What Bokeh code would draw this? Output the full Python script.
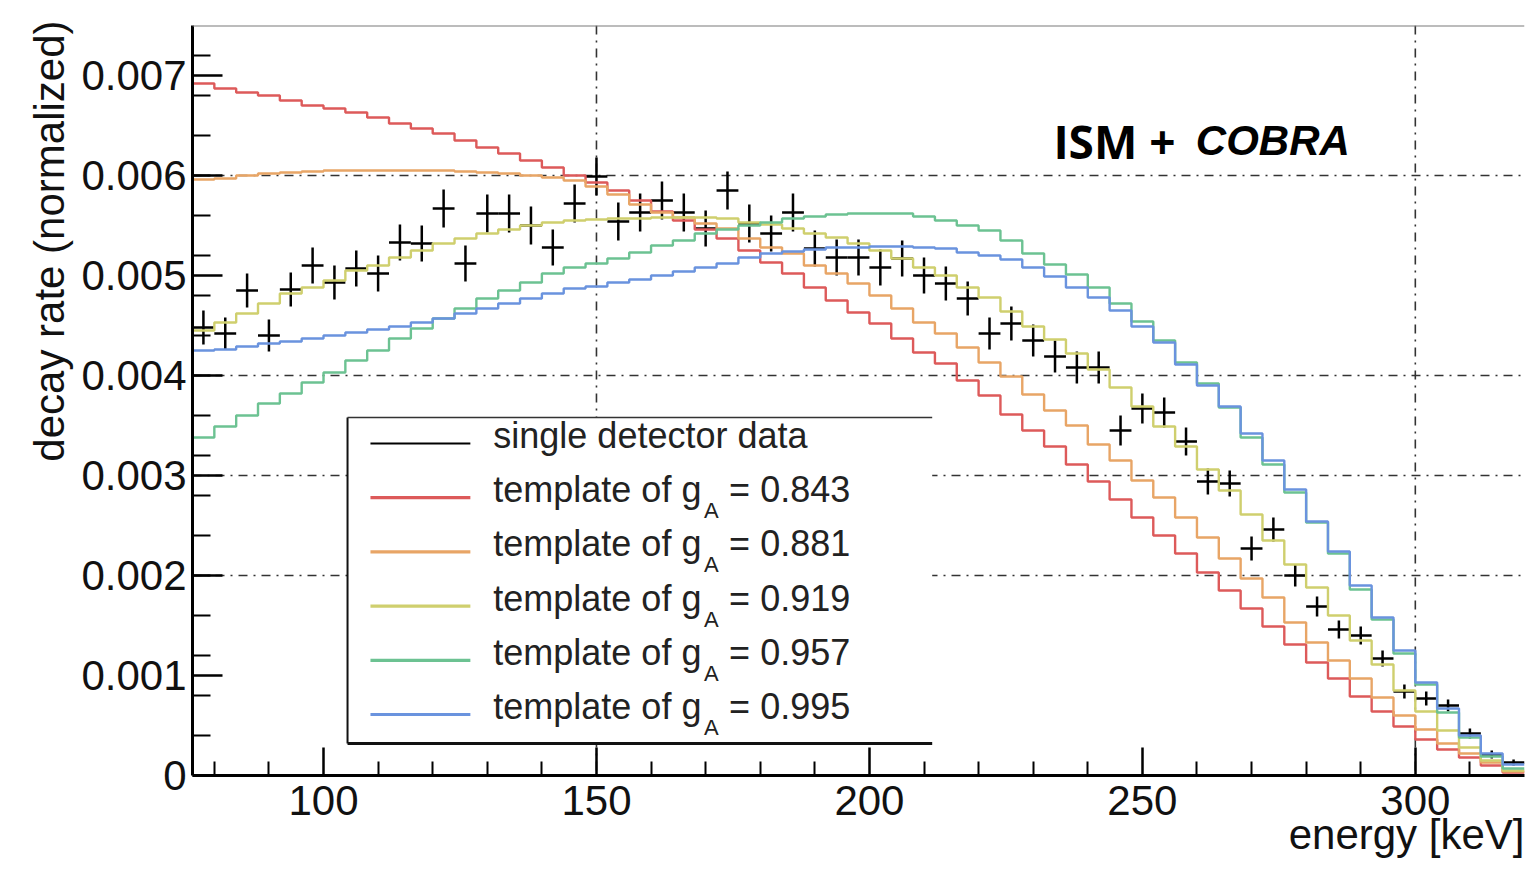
import numpy as np
from bokeh.plotting import figure
from bokeh.models import Range1d, FixedTicker, Span, Label, Title, ColumnDataSource, PrintfTickFormatter
from bokeh.embed import file_html
from bokeh.resources import INLINE

# ---------------- data ----------------
BIN_LO = 76.0
BIN_W = 4.0

data_rate = [0.00448, 0.00442, 0.00485, 0.00440, 0.00486, 0.00510, 0.00493, 0.00507, 0.00502, 0.00533,
             0.00532, 0.00567, 0.00512, 0.00562, 0.00562, 0.00550, 0.00528, 0.00572, 0.00599, 0.00554,
             0.00563, 0.00575, 0.00563, 0.00547, 0.00585, 0.00552, 0.00542, 0.00563, 0.00527, 0.00518,
             0.00518, 0.00508, 0.00517, 0.00500, 0.00492, 0.00477, 0.00442, 0.00452, 0.00435, 0.00419,
             0.00408, 0.00408, 0.00345, 0.00367, 0.00363, 0.00334, 0.00294, 0.00292, 0.00227, 0.00246,
             0.00200, 0.00169, 0.00146, 0.00140, 0.00117, 0.00084, 0.00077, 0.00070, 0.00042, 0.00021,
             0.00013]
data_err = [0.00017, 0.00016, 0.00017, 0.00016, 0.00017, 0.00018, 0.00017, 0.00018, 0.00018, 0.00018,
            0.00018, 0.00019, 0.00018, 0.00019, 0.00019, 0.00019, 0.00018, 0.00019, 0.00019, 0.00019,
            0.00019, 0.00019, 0.00019, 0.00018, 0.00019, 0.00019, 0.00018, 0.00019, 0.00018, 0.00018,
            0.00018, 0.00018, 0.00018, 0.00018, 0.00017, 0.00017, 0.00016, 0.00017, 0.00016, 0.00016,
            0.00016, 0.00016, 0.00015, 0.00015, 0.00015, 0.00014, 0.00013, 0.00013, 0.00012, 0.00012,
            0.00011, 0.00010, 0.00009, 0.00009, 0.00008, 0.00007, 0.00007, 0.00006, 0.00005, 0.00004,
            0.00003]

t_0843 = [0.00692, 0.00687, 0.00683, 0.00680, 0.00675, 0.00670, 0.00667, 0.00663, 0.00658, 0.00652,
          0.00647, 0.00642, 0.00635, 0.00628, 0.00622, 0.00615, 0.00608, 0.00600, 0.00593, 0.00585,
          0.00575, 0.00564, 0.00555, 0.00546, 0.00537, 0.00525, 0.00513, 0.00502, 0.00488, 0.00475,
          0.00463, 0.00452, 0.00437, 0.00423, 0.00412, 0.00395, 0.00380, 0.00361, 0.00345, 0.00329,
          0.00311, 0.00294, 0.00276, 0.00258, 0.00240, 0.00222, 0.00203, 0.00185, 0.00167, 0.00149,
          0.00131, 0.00113, 0.00097, 0.00079, 0.00064, 0.00049, 0.00036, 0.00026, 0.00018, 0.00010,
          0.00003]
t_0881 = [0.00596, 0.00597, 0.00600, 0.00602, 0.00603, 0.00604, 0.00605, 0.00605, 0.00605, 0.00605,
          0.00605, 0.00605, 0.00604, 0.00603, 0.00602, 0.00600, 0.00598, 0.00595, 0.00589, 0.00581,
          0.00571, 0.00563, 0.00558, 0.00552, 0.00547, 0.00537, 0.00528, 0.00522, 0.00510, 0.00502,
          0.00492, 0.00480, 0.00467, 0.00453, 0.00442, 0.00428, 0.00413, 0.00399, 0.00381, 0.00365,
          0.00350, 0.00331, 0.00315, 0.00295, 0.00278, 0.00258, 0.00238, 0.00217, 0.00197, 0.00178,
          0.00153, 0.00133, 0.00115, 0.00097, 0.00078, 0.00060, 0.00046, 0.00032, 0.00022, 0.00013,
          0.00004]
t_0919 = [0.00445, 0.00453, 0.00462, 0.00472, 0.00482, 0.00488, 0.00495, 0.00505, 0.00510, 0.00518,
          0.00525, 0.00532, 0.00537, 0.00542, 0.00546, 0.00550, 0.00553, 0.00555, 0.00556, 0.00557,
          0.00557, 0.00558, 0.00558, 0.00558, 0.00557, 0.00553, 0.00551, 0.00547, 0.00542, 0.00538,
          0.00532, 0.00525, 0.00517, 0.00508, 0.00500, 0.00488, 0.00478, 0.00464, 0.00449, 0.00436,
          0.00422, 0.00406, 0.00388, 0.00369, 0.00349, 0.00329, 0.00306, 0.00285, 0.00261, 0.00235,
          0.00211, 0.00188, 0.00160, 0.00135, 0.00111, 0.00085, 0.00064, 0.00045, 0.00028, 0.00015,
          0.00005]
t_0957 = [0.00338, 0.00349, 0.00360, 0.00372, 0.00382, 0.00393, 0.00403, 0.00415, 0.00425, 0.00437,
          0.00447, 0.00457, 0.00467, 0.00477, 0.00485, 0.00493, 0.00502, 0.00508, 0.00512, 0.00517,
          0.00523, 0.00530, 0.00535, 0.00542, 0.00546, 0.00550, 0.00553, 0.00557, 0.00559, 0.00561,
          0.00562, 0.00562, 0.00562, 0.00559, 0.00555, 0.00550, 0.00545, 0.00535, 0.00522, 0.00511,
          0.00501, 0.00488, 0.00472, 0.00454, 0.00435, 0.00413, 0.00392, 0.00368, 0.00338, 0.00311,
          0.00283, 0.00253, 0.00222, 0.00186, 0.00156, 0.00122, 0.00091, 0.00063, 0.00038, 0.00019,
          0.00007]
t_0995 = [0.00425, 0.00426, 0.00429, 0.00432, 0.00434, 0.00437, 0.00440, 0.00443, 0.00446, 0.00449,
          0.00453, 0.00457, 0.00462, 0.00467, 0.00472, 0.00477, 0.00482, 0.00487, 0.00489, 0.00493,
          0.00496, 0.00500, 0.00504, 0.00508, 0.00512, 0.00518, 0.00522, 0.00524, 0.00526, 0.00528,
          0.00528, 0.00529, 0.00529, 0.00528, 0.00527, 0.00523, 0.00520, 0.00516, 0.00508, 0.00499,
          0.00488, 0.00478, 0.00465, 0.00449, 0.00433, 0.00411, 0.00390, 0.00369, 0.00342, 0.00315,
          0.00286, 0.00254, 0.00224, 0.00190, 0.00158, 0.00125, 0.00093, 0.00067, 0.00040, 0.00022,
          0.00011]

g_A_values = ["0.843", "0.881", "0.919", "0.957", "0.995"]
templates = [t_0843, t_0881, t_0919, t_0957, t_0995]
template_colors = ["#dd5a5a", "#e8a566", "#cfcf6e", "#6cc292", "#6a93de"]

x_ticks = [100, 150, 200, 250, 300]
y_ticks = [0.0, 0.001, 0.002, 0.003, 0.004, 0.005, 0.006, 0.007]
grid_x = [150, 300]
grid_y = [0.002, 0.003, 0.004, 0.006]

n = len(data_rate)
centers = BIN_LO + BIN_W * (np.arange(n) + 0.5)
edges = BIN_LO + BIN_W * np.arange(n + 1)
X_MAX = float(edges[-1])
Y_MAX = 0.0075

FONT = "Liberation Sans"

p = figure(frame_width=1332, frame_height=750,
           x_range=Range1d(BIN_LO, X_MAX), y_range=Range1d(0, Y_MAX),
           output_backend="svg", toolbar_location=None, title=None,
           min_border_left=192, min_border_top=25, min_border_right=4, min_border_bottom=90)
p.outline_line_color = None
p.background_fill_color = "white"
p.border_fill_color = "white"
p.grid.visible = False

# grid (dash-dot), beneath glyphs
for gx in grid_x:
    p.add_layout(Span(location=gx, dimension="height", line_color="#333333", line_width=1.6,
                      line_dash="9 6 2 6", level="underlay"))
for gy in grid_y:
    p.add_layout(Span(location=gy, dimension="width", line_color="#333333", line_width=1.6,
                      line_dash="9 6 2 6", level="underlay"))
p.add_layout(Span(location=Y_MAX, dimension="width", line_color="#7a7a7a", line_width=2))

# axes
for ax in (p.xaxis[0], p.yaxis[0]):
    ax.axis_line_color = "black"
    ax.axis_line_width = 3
    ax.major_tick_line_color = "black"
    ax.minor_tick_line_color = "black"
    ax.major_tick_line_width = 2.5
    ax.minor_tick_line_width = 2
    ax.major_tick_out = 0
    ax.minor_tick_out = 0
    ax.major_label_text_font = FONT
    ax.major_label_text_font_size = "42px"
    ax.major_label_text_color = "#111111"

p.xaxis.ticker = FixedTicker(ticks=x_ticks,
                             minor_ticks=[v for v in range(80, 320, 10) if v % 50 != 0])
p.xaxis.major_tick_in = 28
p.xaxis.minor_tick_in = 14
p.xaxis.major_label_standoff = 10

p.yaxis.ticker = FixedTicker(ticks=y_ticks,
                             minor_ticks=[round(0.0004 * k, 4) for k in range(1, 19)])
p.yaxis.major_tick_in = 30
p.yaxis.minor_tick_in = 18
p.yaxis.major_label_standoff = 6
p.yaxis.formatter = PrintfTickFormatter(format="%.3f")
p.yaxis.major_label_overrides = {0: "0"}

# axis titles, ROOT style (aligned to the axis ends)
p.add_layout(Title(text="energy [keV]", align="right", text_font=FONT, text_font_size="42px",
                   text_font_style="normal", text_color="#111111", standoff=-18, offset=0),
             "below")
p.add_layout(Title(text="decay rate (normalized)", align="right", text_font=FONT,
                   text_font_size="42px", text_font_style="normal", text_color="#111111",
                   standoff=12, offset=-5), "left")

# data points with error bars
src = ColumnDataSource(dict(x=centers, y=np.array(data_rate), e=np.array(data_err)))
src.data["xl"] = src.data["x"] - BIN_W / 2
src.data["xr"] = src.data["x"] + BIN_W / 2
src.data["yl"] = src.data["y"] - src.data["e"]
src.data["yh"] = src.data["y"] + src.data["e"]
p.segment(x0="xl", x1="xr", y0="y", y1="y", source=src, line_color="black", line_width=2.5)
p.segment(x0="x", x1="x", y0="yl", y1="yh", source=src, line_color="black", line_width=2.5)

# templates as step histograms
for vals, col in zip(templates, template_colors):
    yy = list(vals) + [vals[-1]]
    p.step(x=edges, y=yy, mode="after", line_color=col, line_width=2.4)

# ---------------- legend (manual, ROOT-like) ----------------
LEG_L, LEG_R = 104.4, 211.5
LEG_B, LEG_T = 0.00032, 0.00358
p.quad(left=[LEG_L], right=[LEG_R], bottom=[LEG_B], top=[LEG_T], fill_color="white",
       line_color=None)
p.segment(x0=[LEG_L], x1=[LEG_L], y0=[LEG_B], y1=[LEG_T], line_color="#111111", line_width=2)
p.segment(x0=[LEG_L], x1=[LEG_R], y0=[LEG_T], y1=[LEG_T], line_color="#333333", line_width=1.6)
p.segment(x0=[LEG_L], x1=[LEG_R], y0=[LEG_B], y1=[LEG_B], line_color="#111111", line_width=3)

ROW0 = 0.00340
ROW_DY = 0.000542
SAMPLE_X0, SAMPLE_X1 = 108.6, 126.9
TEXT_X = 131.1
SUB_X = 169.7
EQ_X = 174.3
LEG_FS = "36px"

rows_y = [ROW0 - ROW_DY * k for k in range(6)]
p.segment(x0=[SAMPLE_X0] * 6, x1=[SAMPLE_X1] * 6,
          y0=[r - 0.00008 for r in rows_y], y1=[r - 0.00008 for r in rows_y],
          line_color=["black"] + template_colors, line_width=[2.2] + [3.2] * 5)

p.add_layout(Label(x=TEXT_X, y=rows_y[0], text="single detector data", text_font=FONT,
                   text_font_size=LEG_FS, text_color="#222222", text_baseline="middle"))
for k, g in enumerate(g_A_values):
    ry = rows_y[k + 1]
    p.add_layout(Label(x=TEXT_X, y=ry, text="template of g", text_font=FONT,
                       text_font_size=LEG_FS, text_color="#222222", text_baseline="middle"))
    p.add_layout(Label(x=SUB_X, y=ry - 0.00021, text="A", text_font=FONT,
                       text_font_size="22px", text_color="#222222", text_baseline="middle"))
    p.add_layout(Label(x=EQ_X, y=ry, text="= " + g, text_font=FONT,
                       text_font_size=LEG_FS, text_color="#222222", text_baseline="middle"))

# title text inside the frame
p.add_layout(Label(x=233.7, y=0.00635, text="ISM +", text_font="Open Sans",
                   text_font_style="bold", text_font_size="46px", text_color="black",
                   text_baseline="alphabetic"))
p.add_layout(Label(x=259.8, y=0.00635, text="COBRA", text_font=FONT,
                   text_font_style="bold italic", text_font_size="42px", text_color="black",
                   text_baseline="alphabetic"))

open("out.html", "w").write(file_html(p, INLINE))
